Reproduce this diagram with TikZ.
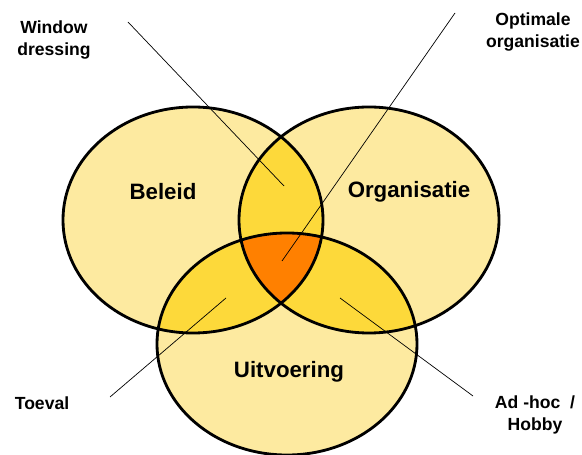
\documentclass[tikz,border=0pt]{standalone}
\usepackage{fontspec}
\setmainfont{Liberation Sans}
\usepackage{tikz}
\usetikzlibrary{positioning}
\definecolor{pale}{RGB}{253,234,160}
\definecolor{gold}{RGB}{253,217,58}
\definecolor{deep}{RGB}{255,128,0}
\tikzset{
  ring/.style={line width=2.4pt},
  big/.style={font=\fontsize{19}{23}\selectfont\bfseries},
  lbl/.style={font=\fontsize{15}{18.5}\selectfont\bfseries, align=center, inner sep=0pt},
  pin/.style={line width=0.6pt}
}
\newcommand{\ringL}{(193,220) ellipse [x radius=3.9cm, y radius=3.39cm]}
\newcommand{\ringR}{(369,220) ellipse [x radius=3.9cm, y radius=3.39cm]}
\newcommand{\ringB}{(287,344) ellipse [x radius=3.9cm, y radius=3.33cm]}
\begin{document}
\begin{tikzpicture}[x=0.03cm, y=-0.03cm]
\useasboundingbox (0,0) rectangle (582,455);
% three sets
\fill[pale]\ringL;
\fill[pale]\ringR;
\fill[pale]\ringB;
\begin{scope}
\clip\ringL;
\fill[gold]\ringR;
\fill[gold]\ringB;
\end{scope}
\begin{scope}
\clip\ringR;
\fill[gold]\ringB;
\end{scope}
\begin{scope}
\clip\ringL;
\clip\ringR;
\fill[deep]\ringB;
\end{scope}
\draw[ring]\ringL;
\draw[ring]\ringR;
\draw[ring]\ringB;
% names
\node[big] (beleid) at (163,192) {Beleid};
\node[big] (organisatie) at (409,192) {Organisatie};
\node[big] (uitvoering) at (289,372) {Uitvoering};
% pointers
\coordinate (wd-a) at (128,22);
\coordinate (wd-b) at (284,186);
\coordinate (oo-a) at (455,13);
\coordinate (oo-b) at (282,261);
\coordinate (tv-a) at (110,397);
\coordinate (tv-b) at (226,298);
\coordinate (ah-a) at (473,396);
\coordinate (ah-b) at (340,298);
\draw[pin](wd-a)--(wd-b);
\draw[pin](oo-a)--(oo-b);
\draw[pin](tv-a)--(tv-b);
\draw[pin](ah-a)--(ah-b);
\node[lbl] (window) at (54,40) {Window\\dressing};
\node[lbl] (optimaal) at (533,32) {Optimale\\organisatie};
\node[lbl] (toeval) at (42,403) {Toeval};
\node[lbl] (adhoc) at (535,415) {Ad -hoc\ \ /\\Hobby};
\end{tikzpicture}
\end{document}
